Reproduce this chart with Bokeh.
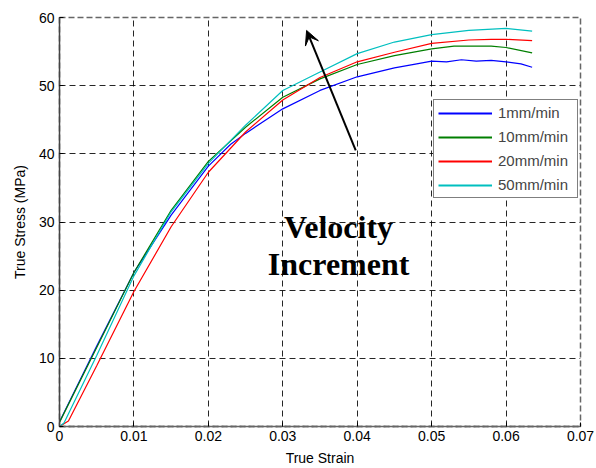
from bokeh.plotting import figure
from bokeh.models import Range1d, FixedTicker, Legend, LegendItem, Arrow, VeeHead, Label
from bokeh.embed import file_html
from bokeh.resources import INLINE

# ---- data ----
strain_1 = [0.0, 0.005, 0.010, 0.015, 0.020, 0.023, 0.025, 0.030, 0.035, 0.040, 0.045,
            0.048, 0.050, 0.052, 0.054, 0.056, 0.058, 0.060, 0.062, 0.0635]
stress_1 = [0.7, 11.8, 22.6, 31.0, 38.2, 41.4, 43.0, 46.6, 49.3, 51.3, 52.6,
            53.2, 53.6, 53.5, 53.8, 53.6, 53.7, 53.5, 53.2, 52.7]

strain_10 = [0.0, 0.005, 0.010, 0.015, 0.020, 0.025, 0.030, 0.035, 0.040, 0.045, 0.050,
             0.053, 0.055, 0.058, 0.060, 0.0635]
stress_10 = [0.6, 11.6, 22.6, 31.7, 38.9, 43.9, 48.3, 51.0, 53.1, 54.4, 55.4,
             55.8, 55.8, 55.8, 55.6, 54.8]

strain_20 = [0.0, 0.0012, 0.005, 0.010, 0.015, 0.020, 0.025, 0.030, 0.035, 0.040, 0.045,
             0.050, 0.055, 0.058, 0.060, 0.0635]
stress_20 = [0.0, 0.8, 8.9, 19.8, 29.3, 37.3, 43.2, 47.9, 51.2, 53.5, 54.9,
             56.2, 56.7, 56.8, 56.8, 56.6]

strain_50 = [0.0, 0.0006, 0.005, 0.010, 0.015, 0.020, 0.025, 0.030, 0.035, 0.040, 0.045,
             0.050, 0.055, 0.060, 0.0635]
stress_50 = [0.0, 0.5, 10.4, 22.1, 31.5, 38.6, 44.2, 49.3, 52.0, 54.7, 56.4,
             57.5, 58.1, 58.4, 58.0]

series_names = ["1mm/min", "10mm/min", "20mm/min", "50mm/min"]
series_colors = ["#0000FF", "#007F00", "#FF0000", "#00BFBF"]

x_ticks = [0.0, 0.01, 0.02, 0.03, 0.04, 0.05, 0.06, 0.07]
x_tick_labels = ["0", "0.01", "0.02", "0.03", "0.04", "0.05", "0.06", "0.07"]
y_ticks = [0, 10, 20, 30, 40, 50, 60]
y_tick_labels = ["0", "10", "20", "30", "40", "50", "60"]

annot_lines = ["Velocity", "Increment"]

# ---- figure ----
p = figure(width=596, height=468, output_backend="svg", toolbar_location=None,
           x_range=Range1d(0, 0.07), y_range=Range1d(0, 60),
           min_border_left=59, min_border_right=16, min_border_top=17, min_border_bottom=41,
           background_fill_color="white", border_fill_color="white")

FONT = "Liberation Sans"

p.xaxis.ticker = FixedTicker(ticks=x_ticks)
p.yaxis.ticker = FixedTicker(ticks=y_ticks)
p.xaxis.major_label_overrides = dict(zip(x_ticks, x_tick_labels))
p.yaxis.major_label_overrides = dict(zip(y_ticks, y_tick_labels))
p.xaxis.axis_label = "True Strain"
p.yaxis.axis_label = "True Stress (MPa)"

for ax in (p.xaxis[0], p.yaxis[0]):
    ax.major_label_text_font = FONT
    ax.major_label_text_font_size = "14px"
    ax.major_label_text_color = "black"
    ax.axis_label_text_font = FONT
    ax.axis_label_text_font_size = "14px"
    ax.axis_label_text_font_style = "normal"
    ax.axis_label_text_color = "black"
    ax.major_tick_in = 4
    ax.major_tick_out = 0
    ax.minor_tick_line_color = None
    ax.major_tick_line_color = "black"

p.xaxis.major_label_standoff = 4
p.xaxis.axis_label_standoff = 6
p.yaxis.major_label_standoff = 5
p.yaxis.axis_label_standoff = 8

p.yaxis.axis_line_color = "#444444"
p.yaxis.axis_line_width = 1.5
p.xaxis.axis_line_color = "#666666"
p.xaxis.axis_line_width = 2
p.xaxis.axis_line_dash = "6 3"

p.outline_line_color = "#666666"
p.outline_line_dash = "6 3"
p.outline_line_width = 1.5

for g in (p.xgrid[0], p.ygrid[0]):
    g.grid_line_color = "black"
    g.grid_line_alpha = 0.85
    g.grid_line_dash = "6 4"
    g.grid_line_width = 1

xs = [strain_1, strain_10, strain_20, strain_50]
ys = [stress_1, stress_10, stress_20, stress_50]
items = []
nan = float("nan")
for x, y, name, c in zip(xs, ys, series_names, series_colors):
    p.line(x, y, line_color=c, line_width=1.2)
    # legend proxy (no visible data) with a thicker stroke for the key
    proxy = p.line([nan], [nan], line_color=c, line_width=2)
    items.append(LegendItem(label=name, renderers=[proxy]))

legend = Legend(items=items, location=(374, 228),
                label_text_font=FONT, label_text_font_size="15px",
                glyph_width=54, glyph_height=16, label_height=16, label_width=75,
                label_standoff=6, spacing=7, padding=4, margin=0,
                border_line_color="black", border_line_width=1,
                background_fill_color="white", background_fill_alpha=1.0)
p.add_layout(legend, "center")

# arrow annotation
p.add_layout(Arrow(end=VeeHead(size=14, fill_color="black", line_color="black"),
                   x_start=0.0398, y_start=40.5, x_end=0.0332, y_end=58.1,
                   line_color="black", line_width=2))

# text annotation
p.add_layout(Label(x=0.0375, y=29.3, text=annot_lines[0], text_align="center",
                   text_baseline="alphabetic", text_font="Liberation Serif",
                   text_font_size="32px", text_font_style="bold", text_color="black"))
p.add_layout(Label(x=0.0375, y=23.9, text=annot_lines[1], text_align="center",
                   text_baseline="alphabetic", text_font="Liberation Serif",
                   text_font_size="32px", text_font_style="bold", text_color="black"))

open("out.html", "w").write(file_html(p, INLINE))
